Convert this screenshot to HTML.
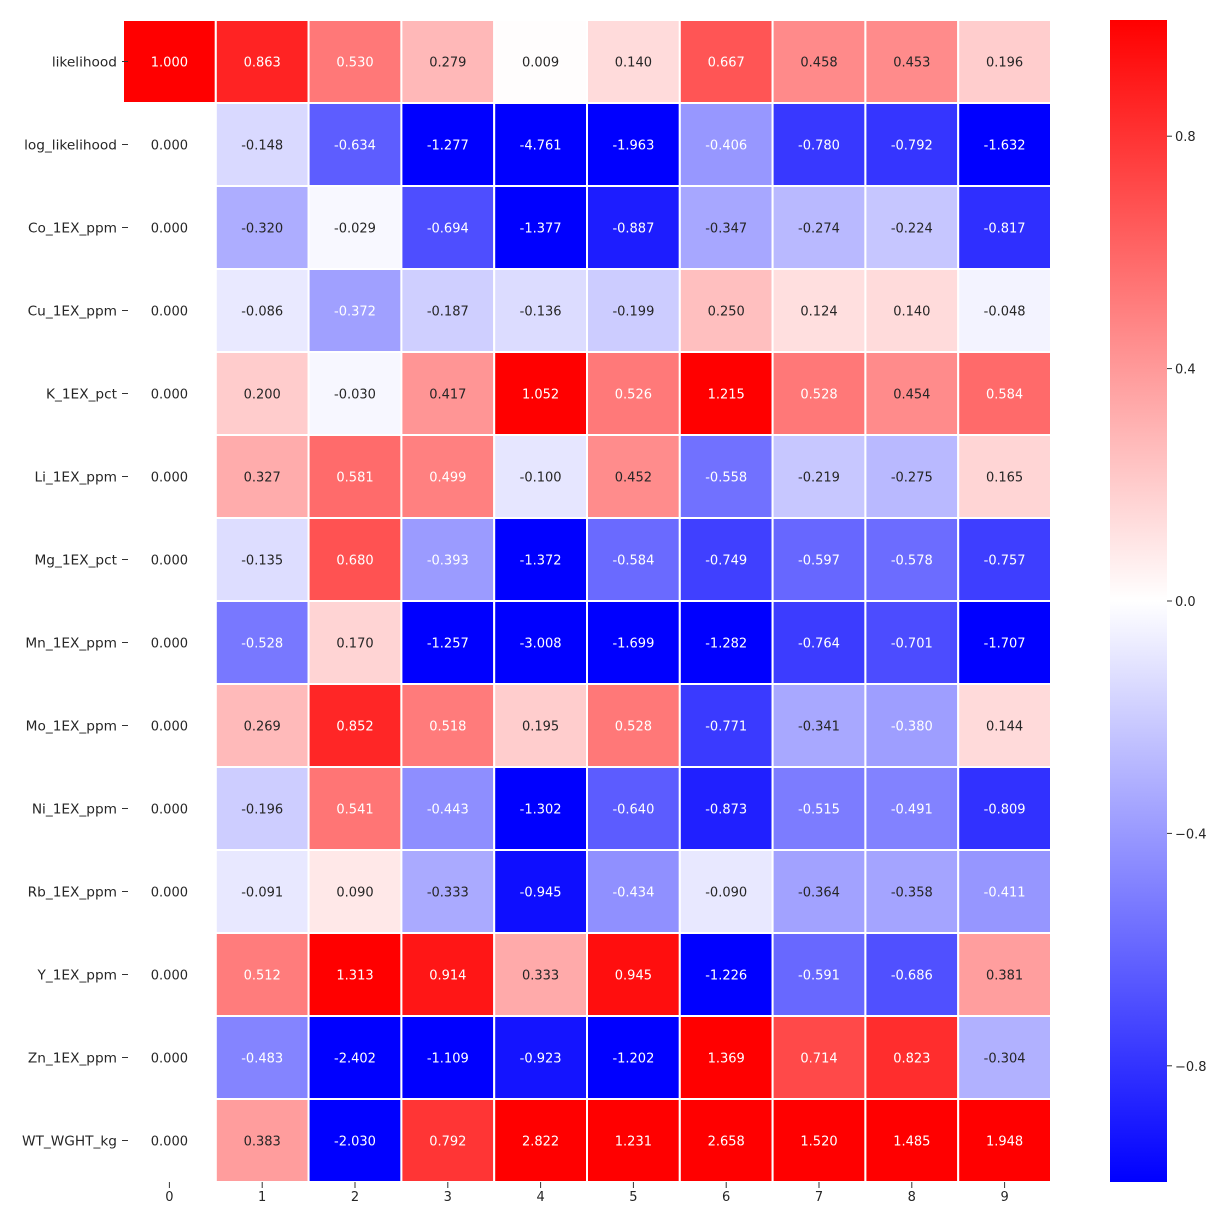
<!DOCTYPE html>
<html><head><meta charset="utf-8"><style>
body{margin:0;background:#fff;}
svg text{font-family:"DejaVu Sans","Liberation Sans",sans-serif;}
</style></head><body>
<svg id="chart" width="1227" height="1222" xmlns="http://www.w3.org/2000/svg">
<defs><linearGradient id="cbg" x1="0" y1="1" x2="0" y2="0">
<stop offset="0" stop-color="#0000ff"/><stop offset="0.5" stop-color="#ffffff"/><stop offset="1" stop-color="#ff0000"/>
</linearGradient></defs>
<g id="cells"></g>
<g id="axes"></g>
<rect x="1110" y="20" width="57" height="1162" fill="url(#cbg)"/>
<g id="cbar"></g>
</svg>
<script>
const rowLabels=["likelihood","log_likelihood","Co_1EX_ppm","Cu_1EX_ppm","K_1EX_pct","Li_1EX_ppm","Mg_1EX_pct","Mn_1EX_ppm","Mo_1EX_ppm","Ni_1EX_ppm","Rb_1EX_ppm","Y_1EX_ppm","Zn_1EX_ppm","WT_WGHT_kg"];
const colLabels=["0","1","2","3","4","5","6","7","8","9"];
const values=[
[1.000,0.863,0.530,0.279,0.009,0.140,0.667,0.458,0.453,0.196],
[0.000,-0.148,-0.634,-1.277,-4.761,-1.963,-0.406,-0.780,-0.792,-1.632],
[0.000,-0.320,-0.029,-0.694,-1.377,-0.887,-0.347,-0.274,-0.224,-0.817],
[0.000,-0.086,-0.372,-0.187,-0.136,-0.199,0.250,0.124,0.140,-0.048],
[0.000,0.200,-0.030,0.417,1.052,0.526,1.215,0.528,0.454,0.584],
[0.000,0.327,0.581,0.499,-0.100,0.452,-0.558,-0.219,-0.275,0.165],
[0.000,-0.135,0.680,-0.393,-1.372,-0.584,-0.749,-0.597,-0.578,-0.757],
[0.000,-0.528,0.170,-1.257,-3.008,-1.699,-1.282,-0.764,-0.701,-1.707],
[0.000,0.269,0.852,0.518,0.195,0.528,-0.771,-0.341,-0.380,0.144],
[0.000,-0.196,0.541,-0.443,-1.302,-0.640,-0.873,-0.515,-0.491,-0.809],
[0.000,-0.091,0.090,-0.333,-0.945,-0.434,-0.090,-0.364,-0.358,-0.411],
[0.000,0.512,1.313,0.914,0.333,0.945,-1.226,-0.591,-0.686,0.381],
[0.000,-0.483,-2.402,-1.109,-0.923,-1.202,1.369,0.714,0.823,-0.304],
[0.000,0.383,-2.030,0.792,2.822,1.231,2.658,1.520,1.485,1.948]];
const cbTicks=[-0.8,-0.4,0.0,0.4,0.8];
const vmin=-1,vmax=1;
const X0=123,X1=1051,Y0=20,Y1=1182;
const cw=(X1-X0)/colLabels.length, ch=(Y1-Y0)/rowLabels.length;
const xPos=i=>X0+i*cw, yPos=j=>Y0+j*ch;
const cbY=v=>Y1-(v-vmin)/(vmax-vmin)*(Y1-Y0);
const NS="http://www.w3.org/2000/svg";
function mk(t,a,p){const e=document.createElementNS(NS,t);for(const k in a)e.setAttribute(k,a[k]);p.appendChild(e);return e;}
function color(v){let t=Math.max(0,Math.min(1,(v-vmin)/(vmax-vmin)));let r,g,b;
 if(t<0.5){r=g=t*2;b=1;}else{r=1;g=b=(1-t)*2;}return [r,g,b];}
function lum(c){const f=x=>x<=0.03928?x/12.92:Math.pow((x+0.055)/1.055,2.4);return 0.2126*f(c[0])+0.7152*f(c[1])+0.0722*f(c[2]);}
const cells=document.getElementById('cells'),axes=document.getElementById('axes'),cbar=document.getElementById('cbar');
values.forEach((row,j)=>row.forEach((v,i)=>{
 const c=color(v);
 const r=mk('rect',{x:xPos(i),y:yPos(j),width:cw,height:ch,fill:`rgb(${Math.round(c[0]*255)},${Math.round(c[1]*255)},${Math.round(c[2]*255)})`,stroke:'#fff','stroke-width':2},cells);
 
 
 const t=mk('text',{x:xPos(i)+cw/2,y:yPos(j)+ch/2+5,'text-anchor':'middle','font-size':13,fill:lum(c)<0.408?'#fff':'#262626'},cells);
 t.textContent=v.toFixed(3);
 
 
}));
rowLabels.forEach((l,j)=>{
 const y=yPos(j)+ch/2;
 mk('line',{x1:X0-1,x2:X0+5,y1:y,y2:y,stroke:'#333','stroke-width':1},axes);
 const t=mk('text',{x:X0-6,y:y+5,'text-anchor':'end','font-size':13.7,fill:'#262626'},axes);
 t.textContent=l;
 
 
});
colLabels.forEach((l,i)=>{
 const x=xPos(i)+cw/2;
 mk('line',{x1:x,x2:x,y1:Y1,y2:Y1+6,stroke:'#333','stroke-width':1},axes);
 const t=mk('text',{x:x,y:Y1+19,'text-anchor':'middle','font-size':13,fill:'#262626'},axes);
 t.textContent=l;
 
 
});
cbTicks.forEach(v=>{
 const y=cbY(v);
 mk('line',{x1:1167,x2:1172,y1:y,y2:y,stroke:'#333','stroke-width':1},cbar);
 const t=mk('text',{x:1175,y:y+5,'font-size':13,fill:'#262626'},cbar);
 t.textContent=(v<0?'\u2212':'')+Math.abs(v).toFixed(1);
 
 
});
</script>
</body></html>
